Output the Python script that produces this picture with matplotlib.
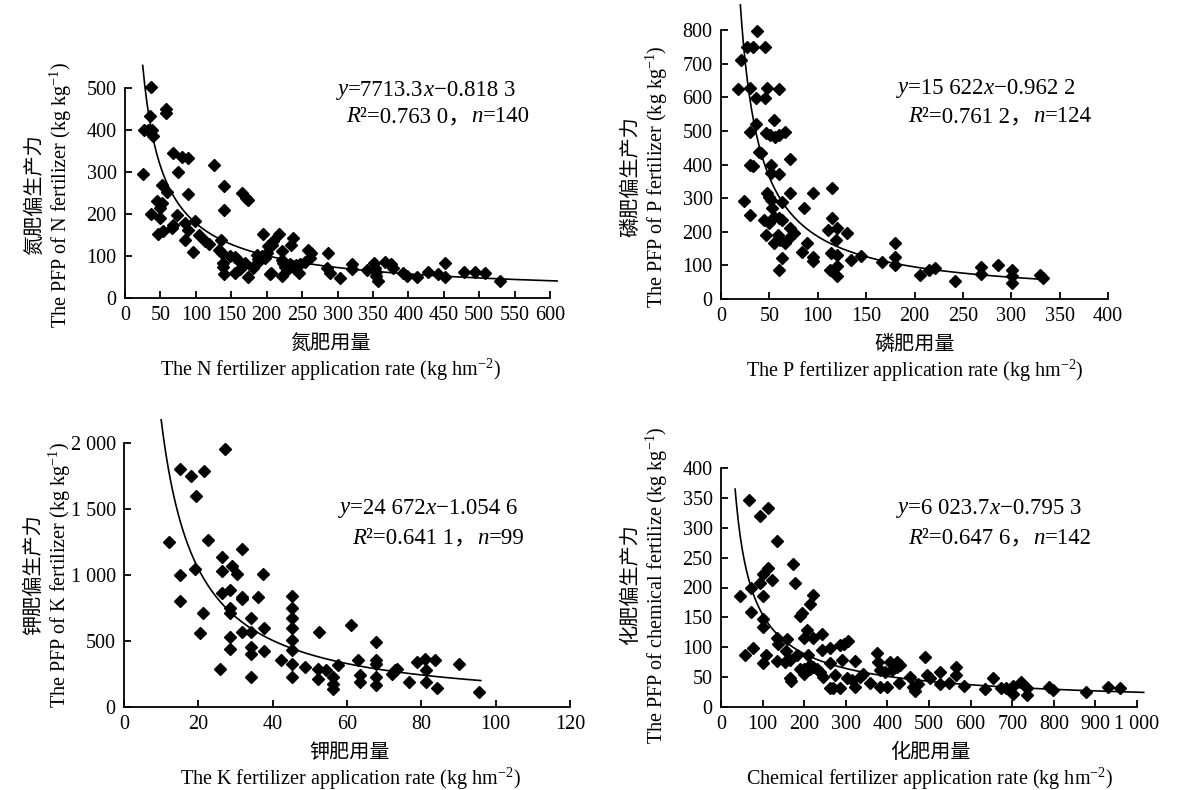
import numpy as np
import matplotlib
matplotlib.use("Agg")
from matplotlib import pyplot as plt

plt.rcParams['font.family'] = ['Liberation Serif', 'Noto Sans CJK SC']
plt.rcParams['mathtext.fontset'] = 'custom'
plt.rcParams['mathtext.rm'] = 'Liberation Serif'
plt.rcParams['mathtext.it'] = 'Liberation Serif:italic'
plt.rcParams['axes.unicode_minus'] = True

# N fertilizer
n_x = [36.7, 35.3, 27, 33, 38.6, 40, 58, 58, 25, 68, 80, 89, 75, 89, 52, 59, 45, 52, 50, 36,
       49, 47, 54, 66, 68, 74, 85, 89, 85, 99, 105, 113, 118, 96, 126, 140, 140, 165, 171, 174,
       135, 132, 137, 139, 139, 140, 148, 155, 158, 155, 162, 169, 173, 186, 188, 186, 181, 195,
       202, 209, 207, 193, 200, 198, 204, 206, 217, 222, 221, 223, 226, 228, 233, 222, 238, 245,
       237, 235, 259, 262, 261, 254, 242, 247, 287, 290, 303, 285, 320, 321, 351, 353, 355, 355,
       357, 341, 367, 376, 379, 393, 398, 412, 428, 442, 452, 452, 478, 494, 508, 529]
n_y = [502, 434, 401, 401, 401, 386, 451, 440, 296, 345, 335, 333, 299, 248, 270, 252, 230, 226,
       214, 200, 190, 153, 159, 167, 173, 198, 179, 163, 139, 183, 151, 135, 129, 109, 317, 267,
       210, 250, 238, 234, 139, 115, 107, 83, 75, 57, 99, 98, 94, 60, 70, 83, 50, 103, 93, 83, 71,
       153, 123, 135, 127, 99, 107, 95, 56, 60, 153, 113, 91, 83, 75, 67, 82, 53, 71, 60, 143, 127,
       115, 107, 95, 86, 79, 82, 106, 60, 48, 71, 82, 70, 83, 71, 61, 52, 40, 66, 85, 82, 71, 60,
       53, 50, 61, 56, 50, 83, 63, 63, 60, 41]

# P fertilizer
p_x = [37.2, 26.8, 33, 45.8, 20.6, 17.2, 29.6, 36.5, 45.8, 47.5, 60.2, 55, 36.5, 29.6, 46.8,
       50.9, 56, 59.5, 66.4, 38.9, 41.3, 29.6, 33, 52, 52, 59.5, 71.6, 24, 29.6, 47.5, 49.2, 51.6,
       52.6, 62.9, 71.6, 95.6, 85.3, 114.5, 44.7, 49.2, 54.4, 59.5, 62.9, 46.8, 55, 58.8, 61.2,
       66.4, 69.8, 71.6, 75, 62.9, 59.5, 88.7, 83.6, 95.6, 95.6, 114.5, 110.1, 119.7, 119, 130,
       113.5, 119.7, 113.1, 119.7, 119.7, 134, 144.5, 166, 180, 180, 180, 205.7, 215.3, 221.2,
       241.8, 268.7, 268.7, 286.5, 300.3, 300.3, 300.3, 329.5, 333]
p_y = [798, 749, 749, 749, 711, 625, 628, 599, 599, 628, 625, 531, 520, 497, 494, 487, 482, 487,
       497, 438, 433, 398, 395, 400, 376, 373, 415, 292, 250, 314, 304, 294, 270, 289, 316, 316,
       270, 331, 235, 225, 245, 240, 235, 191, 166, 191, 176, 166, 181, 210, 196, 121, 87, 166,
       141, 126, 112, 240, 205, 210, 176, 196, 138, 131, 87, 97, 69, 115, 128, 109, 166, 126, 100,
       71, 87, 92, 54, 94, 75, 102, 85, 69, 47, 72, 62]

# K fertilizer
k_x = [27.2, 15.1, 18.0, 21.5, 19.4, 12.2, 22.7, 15.1, 15.1, 19.1, 21.3, 20.4, 26.3, 26.5, 29,
       30.3, 31.7, 26.5, 28.5, 31.7, 31.8, 36.1, 37.5, 28.5, 28.5, 34.1, 37.7, 31.7, 34.1, 28.5,
       28.5, 34.1, 34.1, 37.7, 25.8, 34.1, 45.1, 45.1, 45.1, 45.1, 45.1, 45.1, 45.1, 45.1, 42.2,
       48.7, 52.6, 52.3, 52.3, 54.4, 56.3, 56.3, 56.3, 57.7, 61.1, 63.0, 63.5, 63.5, 67.8, 67.8,
       67.8, 67.8, 67.8, 72.0, 72.9, 73.4, 76.8, 78.7, 81, 83.7, 81.3, 81.3, 84.3, 90.2, 95.6]
k_y = [1954, 1803, 1752, 1790, 1600, 1253, 1266, 1000, 803, 1043, 714, 557, 1139, 1030, 1068,
       1005, 1195, 866, 886, 835, 818, 835, 1005, 747, 709, 671, 595, 570, 570, 532, 443, 456,
       405, 425, 291, 228, 841, 747, 671, 595, 506, 430, 329, 228, 354, 304, 570, 291, 215, 278,
       228, 172, 139, 316, 620, 354, 240, 190, 494, 354, 329, 228, 165, 253, 278, 291, 190, 342,
       367, 354, 283, 190, 147, 329, 114]

# chemical fertilizer
c_x = [68, 93, 112, 134, 174, 178, 112, 101, 122, 93, 73, 101, 45, 73, 101, 101, 189, 194, 214,
       221, 134, 138, 158, 206, 200, 220, 243, 58, 76, 101, 109, 134, 157, 154, 165, 182, 190,
       166, 168, 200, 200, 210, 214, 214, 222, 230, 238, 246, 242, 262, 262, 274, 286, 296, 306,
       261, 270, 286, 290, 302, 314, 322, 322, 334, 342, 358, 374, 378, 382, 394, 382, 398, 406,
       410, 422, 422, 429, 430, 454, 462, 466, 474, 490, 494, 502, 526, 526, 549, 566, 565, 584,
       634, 654, 674, 686, 702, 702, 722, 736, 736, 789, 798, 878, 930, 960]
c_y = [347, 320, 333, 277, 239, 208, 232, 223, 213, 208, 200, 186, 186, 159, 148, 134, 152, 157,
       173, 187, 115, 106, 113, 129, 115, 115, 123, 87, 99, 74, 87, 77, 94, 76, 78, 87, 64, 49,
       43, 56, 64, 87, 70, 64, 67, 64, 59, 50, 95, 73, 98, 54, 103, 105, 111, 32, 32, 32, 78, 48,
       45, 34, 77, 50, 55, 40, 91, 76, 62, 59, 34, 34, 76, 62, 76, 67, 40, 70, 50, 34, 27, 39,
       83, 53, 49, 59, 39, 40, 67, 53, 35, 30, 48, 32, 31, 35, 22, 42, 32, 20, 34, 29, 25, 34, 31]

# fitted power curves y = a * x ** b, drawn over [x_start, x_end]
fit_a = [7713.3, 15622, 24672, 6023.7]
fit_b = [-0.8183, -0.9622, -1.0546, -0.7953]
fit_range = [(25, 610), (20, 333), (10, 96), (34, 1016)]

eq_text = [
    [('y', 1), ('=7713.3', 0), ('x', 1), ('\u22120.818 3', 0)],
    [('y', 1), ('=15 622', 0), ('x', 1), ('\u22120.962 2', 0)],
    [('y', 1), ('=24 672', 0), ('x', 1), ('\u22121.054 6', 0)],
    [('y', 1), ('=6 023.7', 0), ('x', 1), ('\u22120.795 3', 0)],
]
r2_text = [
    [('R', 1), ('\u00b2=0.763 0\uff0c', 0), ('n', 1), ('=140', 0)],
    [('R', 1), ('\u00b2=0.761 2\uff0c', 0), ('n', 1), ('=124', 0)],
    [('R', 1), ('\u00b2=0.641 1\uff0c', 0), ('n', 1), ('=99', 0)],
    [('R', 1), ('\u00b2=0.647 6\uff0c', 0), ('n', 1), ('=142', 0)],
]

ylabels_cn = ['氮肥偏生产力', '磷肥偏生产力', '钾肥偏生产力', '化肥偏生产力']
ylabels_en = [r'The PFP of N fertilizer (kg kg$^{-1}$)', r'The PFP of P fertilizer (kg kg$^{-1}$)',
              r'The PFP of K fertilizer (kg kg$^{-1}$)', r'The PFP of chemical fertilize (kg kg$^{-1}$)']
xlabels_cn = ['氮肥用量', '磷肥用量', '钾肥用量', '化肥用量']
xlabels_en = [r'The N fertilizer application rate (kg hm$^{-2}$)',
              r'The P fertilizer application rate (kg hm$^{-2}$)',
              r'The K fertilizer application rate (kg hm$^{-2}$)',
              r'Chemical fertilizer application rate (kg hm$^{-2}$)']

xticks = [np.arange(0, 601, 50), np.arange(0, 401, 50), np.arange(0, 121, 20), np.arange(0, 1001, 100)]
yticks = [np.arange(0, 501, 100), np.arange(0, 801, 100), np.arange(0, 2001, 500), np.arange(0, 401, 50)]
k_ylabels = ['0', '500', '1 000', '1 500', '2 000']
c_xlabels = ['0', '100', '200', '300', '400', '500', '600', '700', '800', '900', '1 000']

W, H = 1181, 790
# axes boxes in pixels: left, right, top, bottom
boxes = [(125, 550, 88, 298), (721, 1108, 30, 299), (124, 570, 443, 707), (721, 1137, 468, 707)]
ylab_center = [195, 177, 575, 585]
xlab_center = [330, 915, 350, 930]
eq_pos = [(338, 90), (898, 88), (340, 508), (898, 508)]
r2_pos = [(346, 117), (908, 117), (352, 538), (908, 538)]

fig = plt.figure(figsize=(W / 100, H / 100), dpi=100)

xs = [n_x, p_x, k_x, c_x]
ys = [n_y, p_y, k_y, c_y]


def chain(ax, x, y, pieces, fs=16.5):
    prev = None
    for s, it in pieces:
        style = 'italic' if it else 'normal'
        if prev is None:
            prev = ax.annotate(s, xy=(x, H - y), xycoords='figure pixels', ha='left', va='center',
                               fontstyle=style, fontsize=fs)
        else:
            prev = ax.annotate(s, xy=(1, 0), xycoords=prev, ha='left', va='bottom',
                               fontstyle=style, fontsize=fs)


for i in range(4):
    l, r, t, b = boxes[i]
    ax = fig.add_axes([l / W, 1 - b / H, (r - l) / W, (b - t) / H])
    ax.plot(xs[i], ys[i], 'D', color='black', ms=6, ls='none', clip_on=False)
    cx = np.linspace(fit_range[i][0], fit_range[i][1], 400)
    ax.plot(cx, fit_a[i] * cx ** fit_b[i], color='black', lw=1.2, clip_on=False)
    ax.set_xlim(xticks[i][0], xticks[i][-1])
    ax.set_ylim(yticks[i][0], yticks[i][-1])
    ax.set_xticks(xticks[i])
    ax.set_yticks(yticks[i])
    if i == 2:
        ax.set_yticklabels(k_ylabels)
    if i == 3:
        ax.set_xticklabels(c_xlabels)
    for s in ['top', 'right']:
        ax.spines[s].set_visible(False)
    for s in ['left', 'bottom']:
        ax.spines[s].set_linewidth(1.3)
    ax.tick_params(direction='in', length=5, width=1.3, pad=6, labelsize=14.5)

    mid = xlab_center[i]
    fig.text(mid / W, 1 - (b + 45) / H, xlabels_cn[i], ha='center', va='center',
             family='Noto Sans CJK SC', fontsize=14.5)
    fig.text(mid / W, 1 - (b + 72) / H, xlabels_en[i], ha='center', va='center', fontsize=14.5)
    fig.text((l - 90) / W, 1 - ylab_center[i] / H, ylabels_cn[i], ha='center', va='center',
             rotation=90, family='Noto Sans CJK SC', fontsize=14.5)
    fig.text((l - 64) / W, 1 - ylab_center[i] / H, ylabels_en[i], ha='center', va='center',
             rotation=90, fontsize=14.5)

    chain(ax, eq_pos[i][0], eq_pos[i][1], eq_text[i])
    chain(ax, r2_pos[i][0], r2_pos[i][1], r2_text[i])

fig.savefig('out.png', dpi=100)
